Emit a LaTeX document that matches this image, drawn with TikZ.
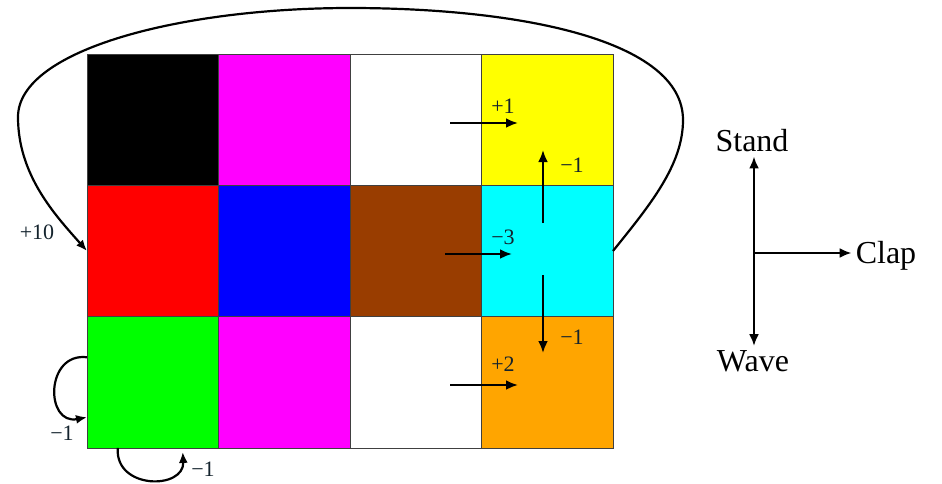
\documentclass[tikz,border=0pt]{standalone}
\usepackage{fontspec}
\setmainfont{Liberation Serif}
\usetikzlibrary{positioning,arrows.meta}
\definecolor{brownish}{RGB}{153,61,0}
\definecolor{orangish}{RGB}{255,165,0}
\definecolor{puremagenta}{RGB}{255,0,255}
\definecolor{purecyan}{RGB}{0,255,255}
\definecolor{pureyellow}{RGB}{255,255,0}
\definecolor{puregreen}{RGB}{0,255,0}
\definecolor{labelcol}{RGB}{20,35,45}

\begin{document}
\begin{tikzpicture}[
    x=1pt, y=-1pt,
    node distance=0pt,
    cell/.style={
        rectangle,
        draw=black!75,
        line width=0.8pt,
        minimum width=131.5pt,
        minimum height=131.3pt,
        inner sep=0pt,
        outer sep=0pt
    },
    arrow/.style={-{Latex[length=12pt,width=10pt]}, line width=2.8pt},
    curvearrow/.style={-{Latex[length=11pt,width=9pt]}, line width=2.2pt},
    reward/.style={font=\fontsize{22}{26}\selectfont, text=labelcol, inner sep=0pt},
    action/.style={font=\fontsize{32}{38}\selectfont, inner sep=4pt}
]

\useasboundingbox (0,0) rectangle (942,483);

% Grid
\node (black)   [cell, fill=black, anchor=north west] at (87,54) {};
\node (magtop)  [cell, fill=puremagenta, right=of black] {};
\node (whitetop)[cell, fill=white, right=of magtop] {};
\node (yellow)  [cell, fill=pureyellow, right=of whitetop] {};

\node (red)     [cell, fill=red, below=of black] {};
\node (blue)    [cell, fill=blue, right=of red] {};
\node (brown)   [cell, fill=brownish, right=of blue] {};
\node (cyan)    [cell, fill=purecyan, right=of brown] {};

\node (green)   [cell, fill=puregreen, below=of red] {};
\node (magbot)  [cell, fill=puremagenta, right=of green] {};
\node (whitebot)[cell, fill=white, right=of magbot] {};
\node (orange)  [cell, fill=orangish, right=of whitebot] {};

% Transitions
\coordinate (plusonefrom) at (450,123);
\coordinate (plusoneto)   at (518,123);
\coordinate (upfrom)      at (543,223);
\coordinate (upto)        at (543,150);
\coordinate (minthreefrom) at (445,254);
\coordinate (minthreeto)   at (512,254);
\coordinate (downfrom)    at (543,275);
\coordinate (downto)      at (543,353);
\coordinate (plustwofrom) at (450,385);
\coordinate (plustwoto)   at (518,385);

\draw [arrow] (plusonefrom) -- (plusoneto);
\draw [arrow] (upfrom) -- (upto);
\draw [arrow] (minthreefrom) -- (minthreeto);
\draw [arrow] (downfrom) -- (downto);
\draw [arrow] (plustwofrom) -- (plustwoto);

\draw [curvearrow] (cyan.east) .. controls (650,205) and (683,165) .. (683,120)
    .. controls (683,40) and (520,8) .. (350,8)
    .. controls (180,8) and (18,50) .. (18,117)
    .. controls (18,175) and (55,215) .. (red.west);

\draw [curvearrow] ([yshift=25pt]green.west) .. controls +(-42,-5) and +(-42,8) .. ([yshift=-35pt]green.west);
\draw [curvearrow] ([xshift=-35pt]green.south) .. controls +(-3,42) and +(2,38) .. ([xshift=30pt,yshift=-4pt]green.south);

% Rewards
\node (rplusone)  [reward] at (503,106) {+1};
\node (rupminus)  [reward] at (572,165) {−1};
\node (rminthree) [reward] at (503,237) {−3};
\node (rdownminus)[reward] at (572,337) {−1};
\node (rplustwo)  [reward] at (503,364) {+2};
\node (rplusten)  [reward] at (37,232) {+10};
\node (rgreenleft)[reward] at (62,433) {−1};
\node (rgreenbot) [reward] at (203,469) {−1};

% Actions
\coordinate (hub) at (754,253);
\node (stand) [action] at (752,141) {Stand};
\node (wave)  [action] at (753,361) {Wave};
\node (clap)  [action] at (886,256) {Clap};

\draw [arrow] (hub) -- (hub |- stand.south);
\draw [arrow] (hub) -- (hub |- wave.north);
\draw [arrow] (hub) -- (clap.west |- hub);

\end{tikzpicture}
\end{document}
